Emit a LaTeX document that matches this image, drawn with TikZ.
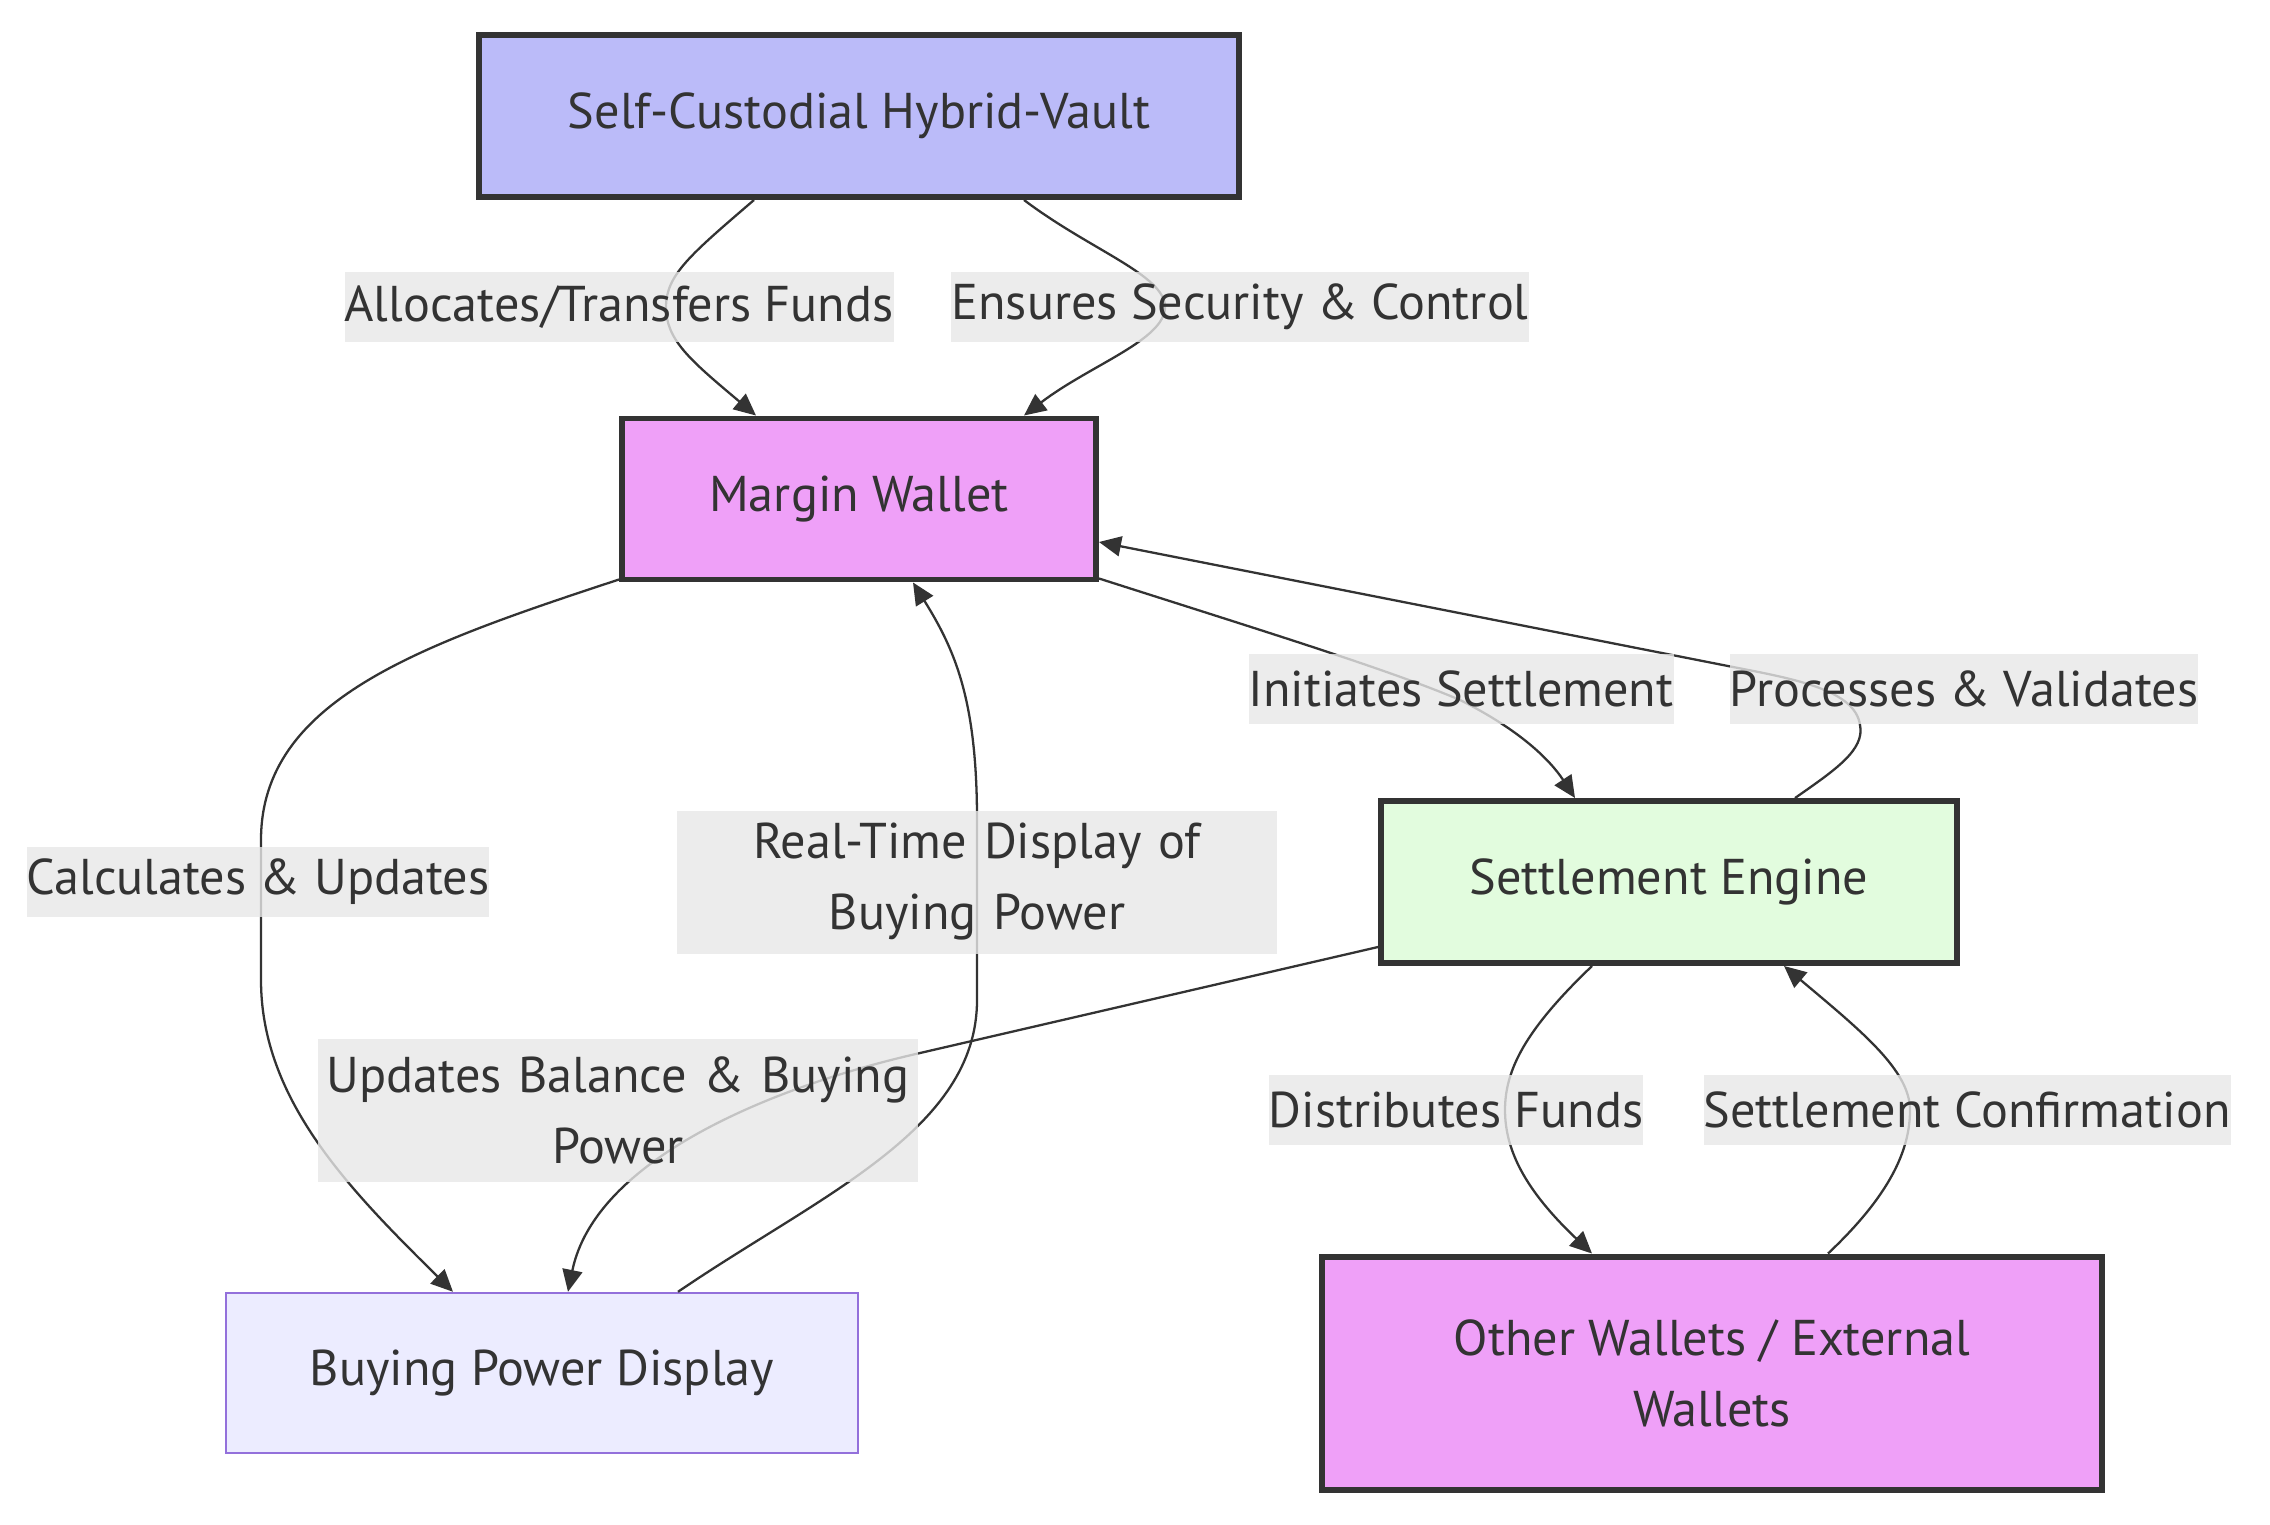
\documentclass[tikz,border=0pt]{standalone}
\usepackage{fontspec}
\setmainfont{PT Sans}
\usetikzlibrary{arrows.meta, positioning}
\definecolor{cink}{HTML}{333333}
\definecolor{cvault}{HTML}{BBBBF9}
\definecolor{cwallet}{HTML}{EFA0F8}
\definecolor{cengine}{HTML}{E2FCDE}
\definecolor{cdisplay}{HTML}{ECECFF}
\definecolor{cdisplayrim}{HTML}{9370DB}
\definecolor{clabel}{HTML}{E8E8E8}
\tikzset{
  every picture/.style={font=\fontsize{14.3}{20.2}\selectfont, line width=0.65pt},
  box/.style={draw=cink, fill=#1, line width=1.7pt, align=center, inner sep=0pt, text=cink},
  box/.default=cwallet,
  plainbox/.style={draw=cdisplayrim, fill=cdisplay, line width=0.7pt, align=center, inner sep=0pt, text=cink},
  edgelabel/.style={fill=clabel, fill opacity=0.8, text opacity=1, text=cink, inner xsep=0pt, inner ysep=0pt, minimum height=0.7cm, align=center},
  widelabel/.style={edgelabel, text width=6.0cm, minimum height=1.43cm},
  link/.style={draw=cink, line width=0.65pt, -{Triangle[length=0.22cm, width=0.2cm]}},
}

\begin{document}
\begin{tikzpicture}
  \fill[white] (0,0) rectangle (22.70,-15.24);
  \useasboundingbox (0,0) rectangle (22.70,-15.24);
  % the five parts of the flow
  \node[box=cvault, minimum width=7.60cm, minimum height=1.62cm] (vault) at (8.59,-1.16) {Self-Custodial Hybrid-Vault};
  \node[box, minimum width=4.74cm, minimum height=1.61cm] (margin) at (8.59,-4.99) {Margin Wallet};
  \node[box=cengine, minimum width=5.76cm, minimum height=1.62cm] (engine) at (16.69,-8.82) {Settlement Engine};
  \node[plainbox, minimum width=6.32cm, minimum height=1.60cm] (display) at (5.42,-13.73) {Buying Power Display};
  \node[box, minimum width=7.80cm, minimum height=2.33cm] (wallets) at (17.12,-13.73) {Other Wallets / External\\Wallets};
  % flows between them
  \draw[link] ([xshift=-1.05cm]vault.south) .. controls (6.9,-2.55) and (6.66,-2.75) .. (6.66,-3.07)
    .. controls (6.66,-3.4) and (6.9,-3.6) .. ([xshift=-1.03cm]margin.north);
  \draw[link] ([xshift=1.65cm]vault.south) .. controls (10.9,-2.5) and (11.65,-2.75) .. (11.65,-3.07)
    .. controls (11.65,-3.4) and (10.9,-3.65) .. ([xshift=1.65cm]margin.north);
  \draw[link] ([yshift=0.04cm]margin.south east) .. controls (12.6,-6.3) and (13.9,-6.7) .. (14.6,-7.0)
    .. controls (15.2,-7.3) and (15.5,-7.6) .. ([xshift=-0.94cm]engine.north);
  \draw[link] ([xshift=1.26cm]engine.north) .. controls (18.35,-7.7) and (18.65,-7.5) .. (18.6,-7.25)
    .. controls (18.55,-6.9) and (17.95,-6.79) .. (17.33,-6.67) -- ([yshift=-0.43cm]margin.east);
  \draw[link] ([yshift=0.03cm]margin.south west) .. controls (4.2,-6.45) and (2.61,-7.0) .. (2.61,-8.4) -- (2.61,-9.8)
    .. controls (2.61,-11.0) and (3.5,-11.9) .. ([xshift=-0.89cm]display.north);
  \draw[link] ([xshift=1.36cm]display.north) .. controls (8.2,-11.95) and (9.77,-11.3) .. (9.77,-10.0) -- (9.77,-8.2)
    .. controls (9.77,-7.0) and (9.55,-6.5) .. ([xshift=0.54cm]margin.south);
  \draw[link] ([yshift=-0.65cm]engine.west) -- (9.2,-10.53)
    .. controls (7.7,-10.87) and (5.95,-11.6) .. ([xshift=0.26cm]display.north);
  \draw[link] ([xshift=-0.77cm]engine.south) .. controls (15.25,-10.3) and (15.05,-10.7) .. (15.05,-11.1)
    .. controls (15.05,-11.5) and (15.25,-11.9) .. ([xshift=-1.20cm]wallets.north);
  \draw[link] ([xshift=1.16cm]wallets.north) .. controls (18.9,-11.95) and (19.1,-11.5) .. (19.1,-11.1)
    .. controls (19.1,-10.7) and (18.6,-10.3) .. ([xshift=1.15cm]engine.south);
  % labels on the flows
  \foreach \n/\x/\y/\t in {alloc/6.19/-3.07/{Allocates/Transfers Funds}, ensures/12.40/-3.07/Ensures Security \& Control,
      initiates/14.61/-6.89/Initiates Settlement, processes/19.64/-6.89/Processes \& Validates,
      calculates/2.58/-8.82/Calculates \& Updates, distributes/14.56/-11.10/Distributes Funds,
      confirmation/19.67/-11.10/Settlement Confirmation}
    \node[edgelabel] (\n) at (\x,\y) {\t};
  \node[widelabel] (realtime) at (9.77,-8.82) {Real-Time Display of\\Buying Power};
  \node[widelabel] (balance) at (6.18,-11.10) {Updates Balance \& Buying\\Power};
\end{tikzpicture}
\end{document}
